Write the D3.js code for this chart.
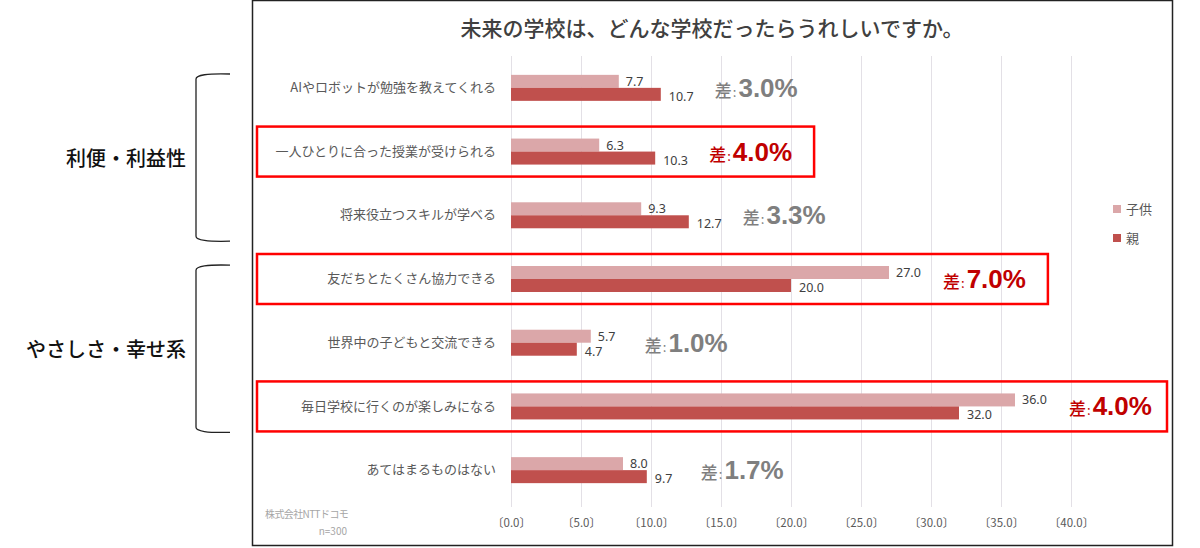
<!DOCTYPE html>
<html>
<head>
<meta charset="utf-8">
<script src="https://cdn.jsdelivr.net/npm/d3@7"></script>
<style>
  body { margin:0; background:#fff; }
  text { font-family: "Noto Sans CJK JP", "Noto Sans", sans-serif; }
</style>
</head>
<body>
<script>
// data
var categories = ["AIやロボットが勉強を教えてくれる","一人ひとりに合った授業が受けられる","将来役立つスキルが学べる",
  "友だちとたくさん協力できる","世界中の子どもと交流できる","毎日学校に行くのが楽しみになる","あてはまるものはない"];
var childVals  = [7.7, 6.3, 9.3, 27.0, 5.7, 36.0, 8.0];
var parentVals = [10.7, 10.3, 12.7, 20.0, 4.7, 32.0, 9.7];
var diffVals   = [3.0, 4.0, 3.3, 7.0, 1.0, 4.0, 1.7];
var highlight  = [false, true, false, true, false, true, false];
var tickVals   = [0,5,10,15,20,25,30,35,40];
var tickLabels = ["〔0.0〕","〔5.0〕","〔10.0〕","〔15.0〕","〔20.0〕","〔25.0〕","〔30.0〕","〔35.0〕","〔40.0〕"];
var seriesNames = ["子供","親"];
var groups = [{name:"利便・利益性", from:0, to:2},{name:"やさしさ・幸せ系", from:3, to:5}];

var colChild = "#DBA7A9", colParent = "#C0504D";

var svg = d3.select("body").append("svg").attr("width",1200).attr("height",548);

// chart frame
svg.append("rect").attr("x",252.5).attr("y",0.5).attr("width",920).attr("height",545)
   .attr("fill","#fff").attr("stroke","#222").attr("stroke-width",1.5);

svg.append("text").text("未来の学校は、どんな学校だったらうれしいですか。")
   .attr("x",712).attr("y",36).attr("text-anchor","middle")
   .attr("font-size",21).attr("font-weight",500).attr("fill","#404040");

var x = d3.scaleLinear().domain([0,40]).range([511,1071]);
var y = d3.scaleBand().domain(categories).range([56,502]);
var bw = y.bandwidth();
var barH = 13;

// gridlines
svg.append("g").attr("transform","translate(0,507)")
   .call(d3.axisBottom(x).tickValues(tickVals).tickSize(-(507-56)).tickFormat(""))
   .call(function(g){ g.select(".domain").remove(); g.selectAll("line").attr("stroke","#E3E0E6"); });

// x axis labels
svg.append("g").attr("transform","translate(0,507)")
   .call(d3.axisBottom(x).tickValues(tickVals).tickSize(0).tickPadding(12)
        .tickFormat(function(d,i){ return tickLabels[i]; }))
   .call(function(g){ g.select(".domain").remove();
      g.selectAll("text").attr("font-size",11.5).attr("fill","#595959")
       .style("font-family","'Noto Sans CJK JP'"); });

// category axis
svg.append("g").attr("transform","translate(511,0)")
   .call(d3.axisLeft(y).tickSize(0).tickPadding(15))
   .call(function(g){ g.select(".domain").remove();
      g.selectAll("text").attr("font-size",13).attr("fill","#595959")
       .style("font-family","'Noto Sans CJK JP'"); });

function cy(i){ return y(categories[i]) + bw/2; }

// bars
svg.selectAll("rect.child").data(childVals).enter().append("rect").attr("class","child")
   .attr("x",x(0)).attr("y",function(d,i){ return cy(i)-barH; })
   .attr("width",function(d){ return x(d)-x(0); }).attr("height",barH).attr("fill",colChild);
svg.selectAll("rect.parent").data(parentVals).enter().append("rect").attr("class","parent")
   .attr("x",x(0)).attr("y",function(d,i){ return cy(i); })
   .attr("width",function(d){ return x(d)-x(0); }).attr("height",barH).attr("fill",colParent);

// value labels
svg.selectAll("text.cv").data(childVals).enter().append("text").attr("class","cv")
   .text(function(d){ return d.toFixed(1); })
   .attr("x",function(d){ return x(d)+7; }).attr("y",function(d,i){ return cy(i)-2; })
   .attr("font-size",12.5).attr("fill","#404040").style("font-family","'Noto Sans'");
svg.selectAll("text.pv").data(parentVals).enter().append("text").attr("class","pv")
   .text(function(d){ return d.toFixed(1); })
   .attr("x",function(d){ return x(d)+8; }).attr("y",function(d,i){ return cy(i)+13; })
   .attr("font-size",12.5).attr("fill","#404040").style("font-family","'Noto Sans'");

// difference labels + highlight boxes
diffVals.forEach(function(d,i){
  var mx = Math.max(childVals[i], parentVals[i]);
  var col = highlight[i] ? "#C00000" : "#7F7F7F";
  var t = svg.append("text").attr("x",x(mx)+54).attr("y",cy(i)+9).attr("fill",col);
  t.append("tspan").text("差").attr("font-size",17).attr("font-weight",500);
  t.append("tspan").text(":").attr("font-size",13).attr("dx",1);
  t.append("tspan").text(d.toFixed(1)+"%").attr("font-size",26).attr("font-weight",700)
   .attr("dx",2).style("font-family","'Liberation Sans'");
  if (highlight[i]) {
    var bb = t.node().getBBox();
    svg.append("rect").attr("x",257).attr("y",cy(i)-25)
       .attr("width",Math.min(bb.x+bb.width+22, 1167)-257).attr("height",50)
       .attr("fill","none").attr("stroke","#FF0000").attr("stroke-width",2.5);
  }
});

// legend
var leg = svg.append("g").attr("transform","translate(1113,209)");
seriesNames.forEach(function(s,i){
  leg.append("rect").attr("x",0).attr("y",i*29-4).attr("width",8).attr("height",8)
     .attr("fill", i==0 ? colChild : colParent);
  leg.append("text").text(s).attr("x",13).attr("y",i*29+5).attr("font-size",13).attr("fill","#595959");
});

// source notes
svg.append("text").text("株式会社NTTドコモ").attr("x",265).attr("y",518)
   .attr("font-size",10).attr("fill","#A6A6A6").attr("letter-spacing",-0.6);
svg.append("text").text("n=300").attr("x",347).attr("y",535).attr("text-anchor","end")
   .attr("font-size",10).attr("fill","#A6A6A6");

// group brackets
groups.forEach(function(g){
  var top = y(categories[g.from]) + 18, bot = y(categories[g.to]) + bw - 6;
  var bx = 196, hx = 230;
  svg.append("path")
     .attr("d","M"+hx+","+top+" Q"+bx+","+(top-1)+" "+bx+","+(top+5)+" L"+bx+","+(bot-5)+" Q"+bx+","+(bot+1)+" "+hx+","+bot)
     .attr("fill","none").attr("stroke","#222").attr("stroke-width",1.3);
  svg.append("text").text(g.name).attr("x",186).attr("y",(top+bot)/2+8).attr("text-anchor","end")
     .attr("font-size",20).attr("font-weight",500).attr("fill","#111");
});
</script>
</body>
</html>
